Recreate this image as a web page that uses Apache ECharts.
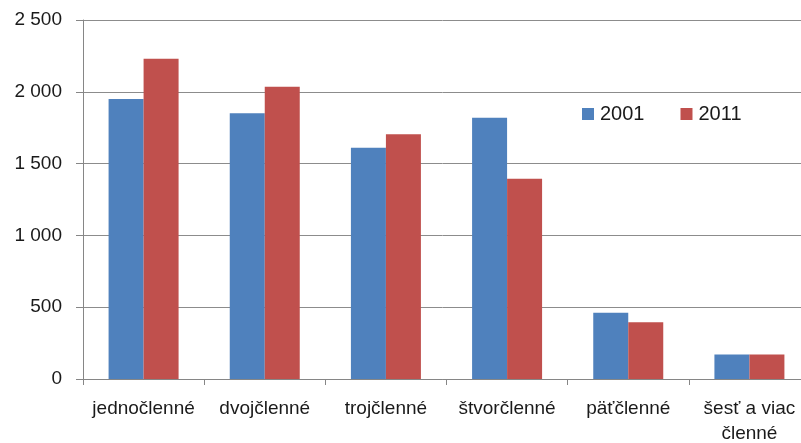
<!DOCTYPE html>
<html><head><meta charset="utf-8">
<script src="https://cdn.jsdelivr.net/npm/echarts@6/dist/echarts.min.js"></script>
<style>html,body{margin:0;padding:0;background:#fff}#c{width:801px;height:443px}</style>
</head><body><div id="c"></div>
<script>
var categories = ["jednočlenné", "dvojčlenné", "trojčlenné", "štvorčlenné", "päťčlenné", "šesť a viac členné"];
var seriesNames = ["2001", "2011"];
var values2001 = [1950, 1850, 1610, 1820, 462, 170];
var values2011 = [2230, 2035, 1705, 1395, 395, 170];
var yTicks = [0, 500, 1000, 1500, 2000, 2500];

var chart = echarts.init(document.getElementById('c'), null, {renderer: 'canvas'});
var font = 'Liberation Sans, Arial, sans-serif';
chart.setOption({
  animation: false,
  color: ['#4F81BD', '#C0504D'],
  grid: {left: 83, top: 20, bottom: 64, width: 727, outerBoundsMode: 'none'},
  legend: {
    data: seriesNames, left: 577, top: 99, itemWidth: 12, itemHeight: 12, itemGap: 36,
    icon: 'rect', textStyle: {fontFamily: font, fontSize: 20, color: '#1a1a1a', padding: [0,0,0,1]}
  },
  xAxis: {
    type: 'category', data: categories,
    axisLine: {lineStyle: {color: '#868686', width: 1}},
    axisTick: {show: true, length: 6, lineStyle: {color: '#868686'}},
    axisLabel: {
      fontFamily: font, fontSize: 19, color: '#1a1a1a', margin: 17, lineHeight: 25, interval: 0,
      formatter: function (v) { return v.replace('viac ', 'viac\n'); }
    }
  },
  yAxis: {
    type: 'value', min: yTicks[0], max: yTicks[yTicks.length - 1], interval: 500,
    axisLine: {show: true, lineStyle: {color: '#868686', width: 1}},
    axisTick: {show: true, length: 7, inside: false, lineStyle: {color: '#868686'}},
    splitLine: {lineStyle: {color: '#8c8c8c', width: 1}},
    axisLabel: {
      fontFamily: font, fontSize: 19, color: '#1a1a1a', margin: 21,
      formatter: function (v) { return String(v).replace(/\B(?=(\d{3})+(?!\d))/g, ' '); }
    }
  },
  series: [
    {name: seriesNames[0], type: 'bar', data: values2001, barWidth: 35, barGap: '0%'},
    {name: seriesNames[1], type: 'bar', data: values2011, barWidth: 35, barGap: '0%'}
  ]
});
</script></body></html>
